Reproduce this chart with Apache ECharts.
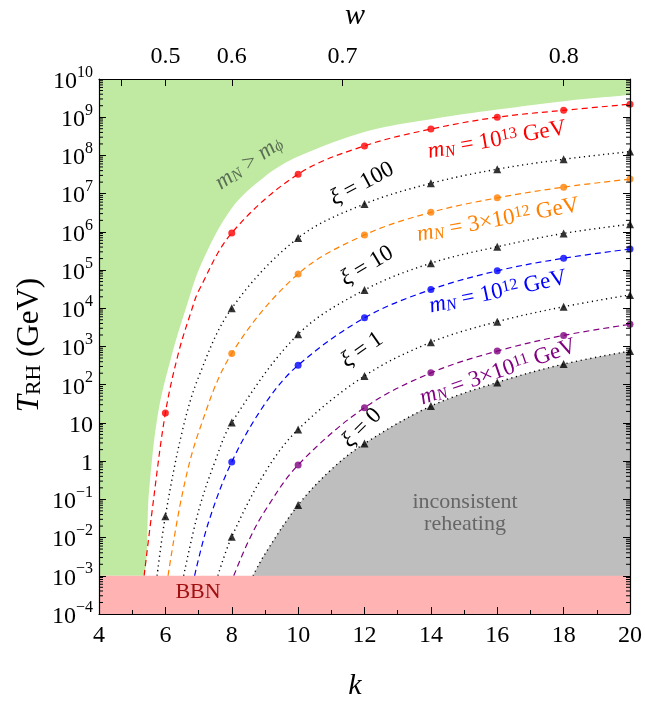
<!DOCTYPE html>
<html>
<head>
<meta charset="utf-8">
<script src="https://cdn.jsdelivr.net/npm/echarts@6/dist/echarts.min.js"></script>
<style>
  html, body { margin: 0; padding: 0; background: #fff; }
  #main { width: 645px; height: 708px; }
</style>
</head>
<body>
<div id="main"></div>
<script>
const FONT = 'Liberation Serif';

// x axis (k) and top axis (w) ticks
const kMin = 4, kMax = 20;
const wTicks = [0.4, 0.5, 0.6, 0.7, 0.8];
const wLabels = [0.5, 0.6, 0.7, 0.8];
// y axis decades (exponents of 10)
const decades = [-4, -3, -2, -1, 0, 1, 2, 3, 4, 5, 6, 7, 8, 9, 10];
const bbnLimit = 1e-3;

// curves: [k, log10(T_RH / GeV)]
const mN13 = [[5.36, -3], [5.58, -1.44], [6, 1.26], [6.4, 2.85], [6.79, 3.95], [7, 4.45], [8, 5.97], [10, 7.51], [12, 8.25], [14, 8.69], [16, 9.0], [18, 9.18], [20, 9.34]];
const xi100 = [[5.75, -3], [6, -1.44], [6.5, 0.75], [7, 2.2], [8, 4.0], [10, 5.84], [12, 6.73], [14, 7.27], [16, 7.64], [18, 7.9], [20, 8.1]];
const mN3e12 = [[6.08, -3], [6.5, -0.9], [7, 0.75], [8, 2.82], [10, 4.9], [12, 5.92], [14, 6.51], [16, 6.89], [18, 7.17], [20, 7.38]];
const xi10 = [[6.55, -3], [7, -1.3], [7.5, 0.0], [8, 1.01], [10, 3.32], [12, 4.48], [14, 5.18], [16, 5.61], [18, 5.96], [20, 6.2]];
const mN12 = [[6.88, -3], [7.3, -1.6], [8, -0.02], [9, 1.5], [10, 2.51], [12, 3.75], [14, 4.49], [16, 4.98], [18, 5.31], [20, 5.55]];
const xi1 = [[7.58, -3], [8, -1.98], [9, -0.3], [10, 0.83], [12, 2.23], [14, 3.11], [16, 3.65], [18, 4.04], [20, 4.35]];
const mN3e11 = [[8.06, -3], [8.5, -2.1], [9, -1.3], [10, -0.1], [12, 1.4], [14, 2.31], [16, 2.88], [18, 3.29], [20, 3.58]];
const xi0 = [[8.64, -3], [9, -2.43], [10, -1.15], [11, -0.22], [12, 0.46], [14, 1.44], [16, 2.06], [18, 2.54], [20, 2.88]];
// lower edge of the m_N > m_phi region
const greenEdge = [[4, -3], [5.31, -3], [5.51, -0.76], [5.78, 1.26], [6.2, 2.8], [6.6, 3.95], [7.1, 5.2], [8, 6.62], [9, 7.45], [10, 7.97], [12.1, 8.64], [14, 8.95], [16, 9.2], [18, 9.42], [20, 9.58]];

const toVal = arr => arr.map(([k, e]) => [k, Math.pow(10, e)]);
const marks = arr => toVal(arr.filter(([k]) => Number.isInteger(k) && k % 2 === 0));
const kOfW = w => 2 * (1 + w) / (1 - w);

const curves = [
  { data: mN13, color: '#ff0000', dashed: true },
  { data: xi100, color: '#000000', dashed: false },
  { data: mN3e12, color: '#ff8000', dashed: true },
  { data: xi10, color: '#000000', dashed: false },
  { data: mN12, color: '#0000ff', dashed: true },
  { data: xi1, color: '#000000', dashed: false },
  { data: mN3e11, color: '#800080', dashed: true },
  { data: xi0, color: '#000000', dashed: false }
];

function powLabel(v) {
  const e = Math.round(Math.log10(v));
  if (e === 0) return '{b|1}';
  if (e === 1) return '{b|10}';
  return '{b|10}{s|' + (e < 0 ? '\u2212' + (-e) : e) + '}';
}

// minor log ticks drawn on the left and right frame
const minorVals = [];
decades.slice(0, -1).forEach(e => {
  for (let m = 2; m <= 9; m++) minorVals.push([kMin, m * Math.pow(10, e)]);
});

const SMOOTH = 0.35;
const series = [];
series.push({
  type: 'line', data: toVal(greenEdge), smooth: SMOOTH,
  symbol: 'none', lineStyle: { width: 0 }, areaStyle: { color: '#c0eaa2', origin: 'end', opacity: 1 },
  z: 1, silent: true
});
curves.forEach((c, i) => {
  const last = i === curves.length - 1;
  series.push({
    type: 'line', data: toVal(c.data), smooth: SMOOTH, symbol: 'none',
    lineStyle: { color: c.color, width: c.dashed ? 1.2 : 1.4, type: c.dashed ? [6, 4] : [1.2, 3.6] },
    areaStyle: last ? { color: '#bebebe', origin: 'start', opacity: 1 } : undefined,
    z: last ? 2 : 3, silent: true
  });
  series.push({
    type: 'scatter', data: marks(c.data),
    symbol: c.dashed ? 'circle' : 'triangle', symbolSize: c.dashed ? 7 : 8,
    itemStyle: { color: c.color }, z: 6, silent: true
  });
});
series.push({
  type: 'line', data: [[kMin, bbnLimit], [kMax, bbnLimit]], symbol: 'none',
  lineStyle: { width: 0 }, areaStyle: { color: '#ffb3b3', origin: 'start', opacity: 1 }, z: 5, silent: true
});
series.push({
  type: 'custom', data: minorVals, z: 7, silent: true,
  renderItem(params, api) {
    const v = api.value(1);
    const pL = api.coord([kMin, v]);
    const pR = api.coord([kMax, v]);
    return {
      type: 'group', children: [
        { type: 'line', shape: { x1: pL[0], y1: pL[1], x2: pL[0] + 4, y2: pL[1] }, style: { stroke: '#000', lineWidth: 1 } },
        { type: 'line', shape: { x1: pR[0], y1: pR[1], x2: pR[0] - 4, y2: pR[1] }, style: { stroke: '#000', lineWidth: 1 } }
      ]
    };
  }
});

const decadeVals = decades.map(e => Math.pow(10, e));
const yAxisBase = {
  type: 'log', logBase: 10, min: 1e-4, max: 1e10, z: 10,
  axisLine: { show: true, lineStyle: { color: '#000', width: 1.2 } },
  axisTick: { show: true, inside: true, length: 7, customValues: decadeVals, lineStyle: { color: '#000' } },
  splitLine: { show: false }, minorTick: { show: false }
};

const ff = { fontFamily: FONT };
function rt(size, color) {
  return {
    i: { ...ff, fontSize: size, fontStyle: 'italic', fill: color, color },
    t: { ...ff, fontSize: size, fill: color, color },
    sub: { ...ff, fontSize: size * 0.7, fontStyle: 'italic', verticalAlign: 'bottom', fill: color, color },
    subr: { ...ff, fontSize: size * 0.7, verticalAlign: 'bottom', fill: color, color },
    sup: { ...ff, fontSize: size * 0.7, verticalAlign: 'top', fill: color, color }
  };
}
function txt(x, y, deg, text, color, size) {
  return {
    type: 'text', x, y, rotation: deg * Math.PI / 180, z: 20, silent: true,
    style: { text, fill: color, fontFamily: FONT, fontSize: size, align: 'center', verticalAlign: 'middle', rich: rt(size, color) }
  };
}

const option = {
  animation: false,
  backgroundColor: '#fff',
  grid: { left: 99, right: 12, top: 79, bottom: 94 },
  xAxis: [{
    type: 'value', min: kMin, max: kMax, interval: 2, z: 10,
    axisLine: { show: true, onZero: false, lineStyle: { color: '#000', width: 1.2 } },
    axisTick: { show: true, inside: true, length: 7, lineStyle: { color: '#000' } },
    minorTick: { show: true, splitNumber: 2, length: 4, lineStyle: { color: '#000' } },
    axisLabel: { color: '#000', fontFamily: FONT, fontSize: 24, margin: 10 },
    splitLine: { show: false }
  }, {
    type: 'value', min: kMin, max: kMax, position: 'top', z: 10,
    axisLine: { show: true, onZero: false, lineStyle: { color: '#000', width: 1.2 } },
    axisTick: { show: true, inside: true, length: 7, customValues: wTicks.map(kOfW), lineStyle: { color: '#000' } },
    axisLabel: {
      color: '#000', fontFamily: FONT, fontSize: 24, margin: 10,
      customValues: wLabels.map(kOfW),
      formatter: k => ((k - 2) / (k + 2)).toFixed(1)
    },
    splitLine: { show: false }
  }],
  yAxis: [{
    ...yAxisBase, position: 'left',
    axisLabel: {
      customValues: decadeVals, formatter: powLabel, margin: 6, align: 'right',
      rich: {
        b: { fontFamily: FONT, fontSize: 24, color: '#000', lineHeight: 29, verticalAlign: 'bottom' },
        s: { fontFamily: FONT, fontSize: 16, color: '#000', verticalAlign: 'top', lineHeight: 16 }
      }
    }
  }, {
    ...yAxisBase, position: 'right', axisLabel: { show: false }
  }],
  series,
  graphic: [
    txt(355, 16, 0, '{i|w}', '#000', 30),
    txt(355, 686, 0, '{i|k}', '#000', 30),
    txt(30, 345, 90, '{i|T}{subr|RH}{t| (GeV)}', '#000', 31),
    txt(249, 163, 35, '{i|m}{sub|N}{t| > }{i|m}{sub|\u03d5}', '#5b6e55', 23),
    txt(497, 140, 10, '{i|m}{sub|N}{t| = 10}{sup|13}{t| GeV}', '#ff0000', 23),
    txt(362, 184, 28, '{i|\u03be}{t| = 100}', '#000', 23),
    txt(498, 220, 10.5, '{i|m}{sub|N}{t| = 3\u00d710}{sup|12}{t| GeV}', '#ff8000', 23),
    txt(367, 266, 31, '{i|\u03be}{t| = 10}', '#000', 23),
    txt(498, 292, 12, '{i|m}{sub|N}{t| = 10}{sup|12}{t| GeV}', '#0000ff', 23),
    txt(362, 350, 35, '{i|\u03be}{t| = 1}', '#000', 23),
    txt(498, 372, 19, '{i|m}{sub|N}{t| = 3\u00d710}{sup|11}{t| GeV}', '#800080', 23),
    txt(362, 428, 45, '{i|\u03be}{t| = 0}', '#000', 23),
    txt(465, 513, 0, '{t|inconsistent}\n{t|reheating}', '#666666', 22),
    txt(198, 592, 0, '{t|BBN}', '#a01010', 22)
  ]
};

const chart = echarts.init(document.getElementById('main'), null, { renderer: 'canvas' });
chart.setOption(option);
</script>
</body>
</html>
